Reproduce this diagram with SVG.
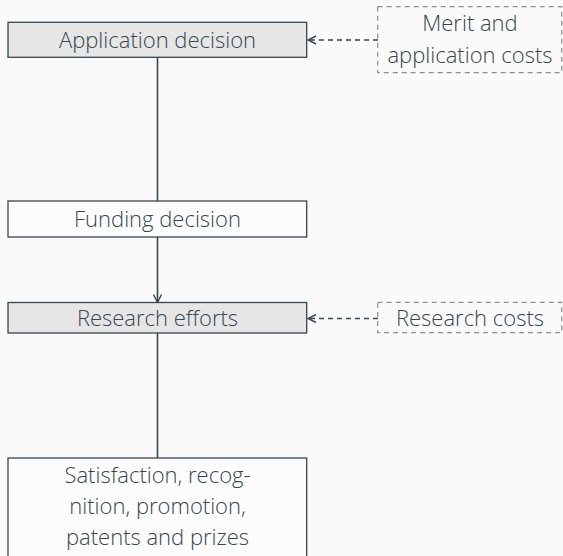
<svg xmlns="http://www.w3.org/2000/svg" width="563" height="556" viewBox="0 0 563 556">
<defs>
<marker id="arr" viewBox="0 0 10 10" refX="9" refY="5" markerWidth="10" markerHeight="10" markerUnits="userSpaceOnUse" orient="auto">
<path d="M1,1 L9,5 L1,9" fill="none" stroke="#37474f" stroke-width="1.4"/>
</marker>
</defs>
<style>
.box{stroke:#37474f;stroke-width:1.3}
.grey{fill:#e6e6e6}
.white{fill:#fcfcfc}
.dbox{fill:none;stroke:#8a8f91;stroke-width:1.2;stroke-dasharray:5 4}
text{font-family:"Open Sans","Noto Sans","DejaVu Sans",sans-serif;font-weight:300;font-size:22px;fill:#37474f;text-anchor:middle}
.line{stroke:#37474f;stroke-width:1.6;fill:none}
.dash{stroke:#37474f;stroke-width:1.6;fill:none;stroke-dasharray:5 4}
</style>
<rect width="563" height="556" fill="#fafafa"/>
<g id="connectors">
<line class="line" x1="157.5" y1="58" x2="157.5" y2="201"/>
<line class="line" x1="157.5" y1="237" x2="157.5" y2="302.5" marker-end="url(#arr)"/>
<line class="line" x1="157.5" y1="333" x2="157.5" y2="458"/>
<line class="dash" x1="378" y1="40" x2="308" y2="40" marker-end="url(#arr)"/>
<line class="dash" x1="378" y1="318.5" x2="308" y2="318.5" marker-end="url(#arr)"/>
</g>
<g id="application">
<rect class="box grey" x="8" y="22.3" width="298.7" height="35"/>
<text x="157.5" y="48">Application decision</text>
</g>
<g id="merit">
<rect class="dbox" x="377.7" y="6.7" width="184" height="66"/>
<text x="470" y="31">Merit and</text>
<text x="470" y="63">application costs</text>
</g>
<g id="funding">
<rect class="box white" x="8" y="201" width="298.7" height="36"/>
<text x="157.5" y="227">Funding decision</text>
</g>
<g id="research">
<rect class="box grey" x="8" y="302.5" width="298.7" height="30.5"/>
<text x="157.5" y="326">Research efforts</text>
</g>
<g id="research-costs">
<rect class="dbox" x="377.7" y="302.3" width="184" height="30.4"/>
<text x="470" y="326">Research costs</text>
</g>
<g id="outcomes">
<rect class="box white" x="8" y="458" width="298.7" height="110"/>
<text x="157.5" y="483">Satisfaction, recog-</text>
<text x="157.5" y="514">nition, promotion,</text>
<text x="157.5" y="545">patents and prizes</text>
</g>
</svg>
